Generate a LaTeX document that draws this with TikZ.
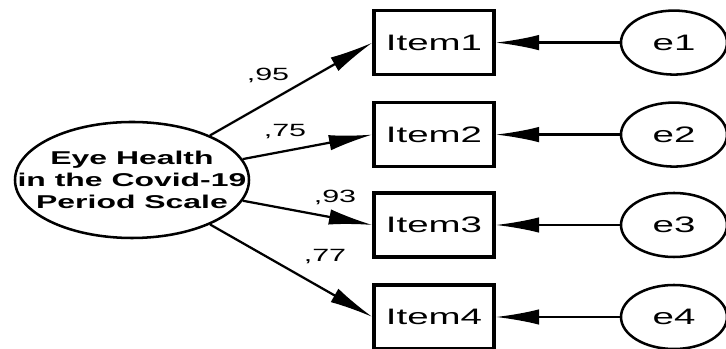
\documentclass[tikz,border=0pt]{standalone}
\usepackage{fontspec}
\setmainfont{Liberation Sans}[FakeStretch=1.72]
\usepackage{tikz}
\usetikzlibrary{positioning,arrows.meta,shapes.geometric}
\tikzset{
  loadarrow/.style={-{Latex[length=31pt, width=11pt]}, line width=1.6pt},
  errarrow/.style={-{Latex[length=31pt, width=11pt]}, line width=1.6pt},
  latentnode/.style={draw, ellipse, line width=1.8pt, minimum width=5.85cm, minimum height=2.9cm, inner xsep=-1.2cm, inner ysep=0pt, align=center, font=\fontsize{13.2}{15.6}\selectfont\bfseries},
  itemnode/.style={draw, line width=2.2pt, minimum width=3.0cm, minimum height=1.6cm, inner sep=0pt, font=\fontsize{15.9}{18}\selectfont},
  errnode/.style={draw, ellipse, line width=1.8pt, minimum width=2.65cm, minimum height=1.6cm, inner sep=0pt, font=\fontsize{15.9}{18}\selectfont},
  coeflabel/.style={font=\fontsize{12.6}{14}\selectfont, inner sep=1pt}
}
\begin{document}
\begin{tikzpicture}
      \useasboundingbox (0,0) rectangle (18.15,8.725);
      \node[latentnode] (scale) at (3.3,4.225) {Eye Health\\in the Covid-19\\Period Scale};
      \node[itemnode] (item1) at (10.85,7.66) {Item1};
      \node[itemnode] (item2) at (10.85,5.36) {Item2};
      \node[itemnode] (item3) at (10.85,3.1) {Item3};
      \node[itemnode] (item4) at (10.85,0.8) {Item4};
      \node[errnode] (e1) at (16.85,7.66) {e1};
      \node[errnode] (e2) at (16.85,5.36) {e2};
      \node[errnode] (e3) at (16.85,3.1) {e3};
      \node[errnode] (e4) at (16.85,0.8) {e4};
      \node[coeflabel] (l1) at (6.7,6.85) {,95};
      \node[coeflabel] (l2) at (7.125,5.425) {,75};
      \node[coeflabel] (l3) at (8.375,3.8) {,93};
      \node[coeflabel] (l4) at (8.125,2.3) {,77};
      \foreach \i in {1,...,4} {
        \draw[loadarrow] (scale) -- (item\i.west);
        \draw[errarrow] (e\i) -- (item\i);
      }
    \end{tikzpicture}
\end{document}
